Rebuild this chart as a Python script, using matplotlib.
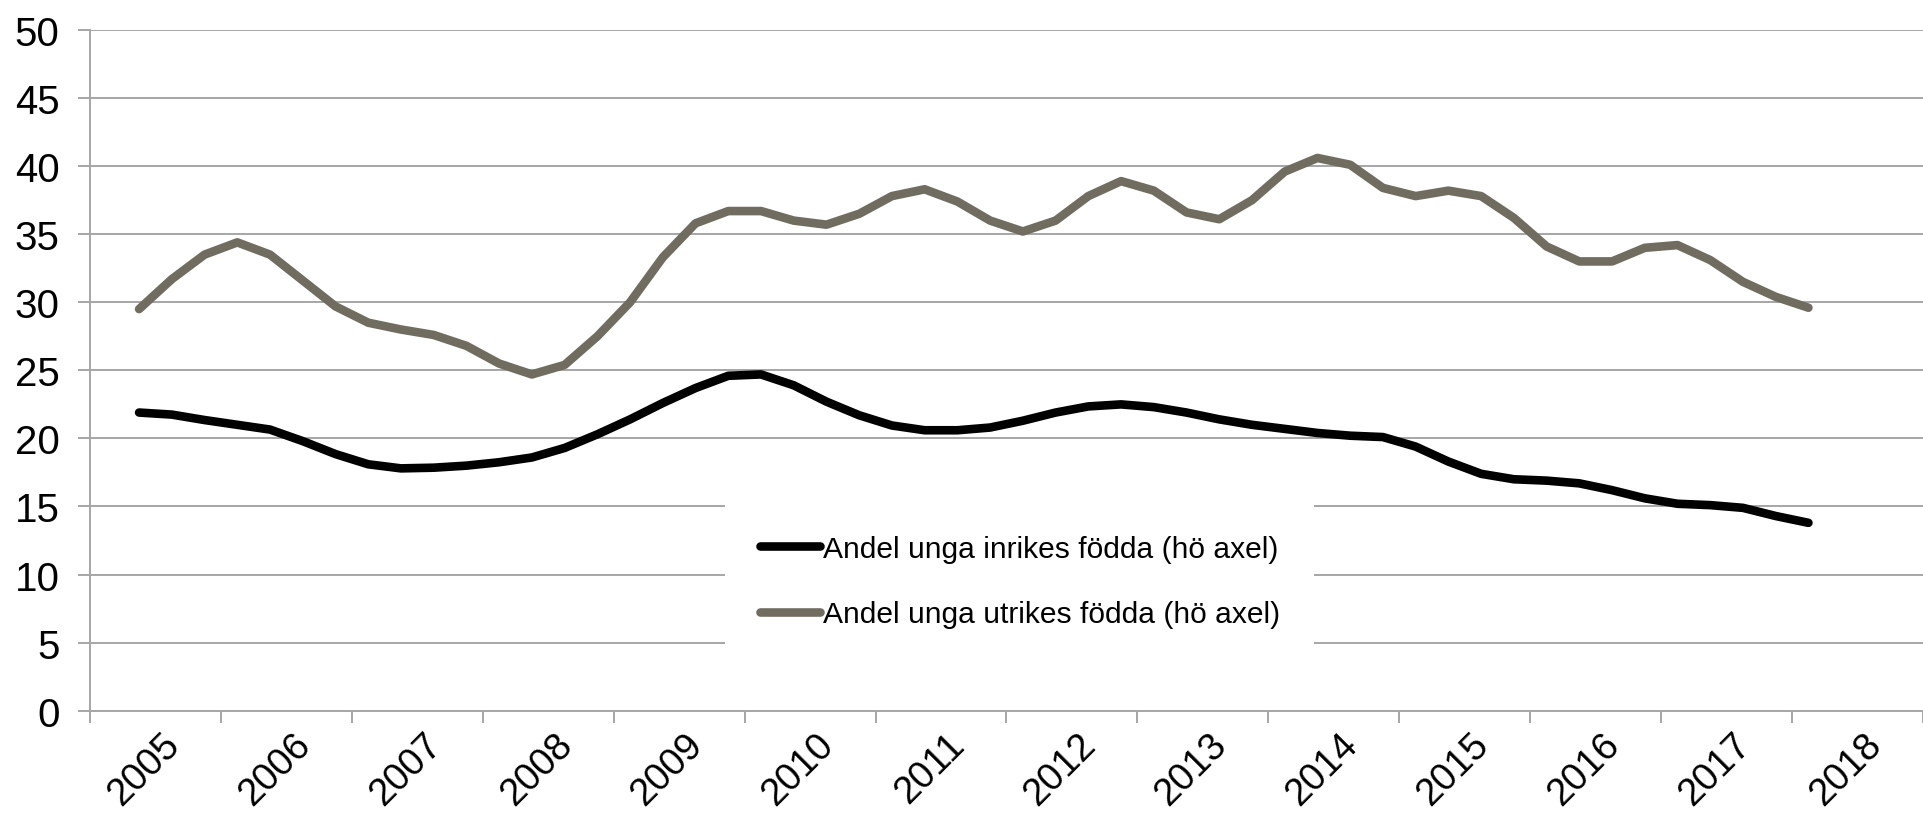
import numpy as np
import matplotlib
matplotlib.use("Agg")
import matplotlib.pyplot as plt

plt.rcParams['font.family'] = ['Liberation Sans', 'DejaVu Sans']

# Year labels on the category axis (one category per quarter, 4 per year)
year_labels = ["2005", "2006", "2007", "2008", "2009", "2010", "2011",
               "2012", "2013", "2014", "2015", "2016", "2017", "2018"]

# Quarterly observations, 2005 Q2 .. 2018 Q1
first_quarter_index = 1  # 0 = 2005 Q1

series_inrikes_label = "Andel unga inrikes födda (hö axel)"
inrikes = [21.9, 21.75, 21.35, 21.0, 20.65, 19.8, 18.85, 18.1, 17.8, 17.85,
           18.0, 18.25, 18.6, 19.3, 20.3, 21.4, 22.6, 23.7, 24.6, 24.7,
           23.9, 22.7, 21.7, 20.95, 20.6, 20.6, 20.8, 21.3, 21.9, 22.35,
           22.5, 22.3, 21.9, 21.4, 21.0, 20.7, 20.4, 20.2, 20.1, 19.4,
           18.3, 17.4, 17.0, 16.9, 16.7, 16.2, 15.6, 15.2, 15.1, 14.9,
           14.3, 13.8]

series_utrikes_label = "Andel unga utrikes födda (hö axel)"
utrikes = [29.5, 31.7, 33.5, 34.4, 33.5, 31.6, 29.7, 28.5, 28.0, 27.6,
           26.8, 25.5, 24.7, 25.4, 27.5, 30.0, 33.3, 35.8, 36.7, 36.7,
           36.0, 35.7, 36.5, 37.8, 38.3, 37.4, 36.0, 35.2, 36.0, 37.8,
           38.9, 38.2, 36.6, 36.1, 37.5, 39.6, 40.6, 40.1, 38.4, 37.8,
           38.2, 37.8, 36.2, 34.1, 33.0, 33.0, 34.0, 34.2, 33.1, 31.5,
           30.4, 29.6]

y_ticks = [0, 5, 10, 15, 20, 25, 30, 35, 40, 45, 50]

W, H = 1923, 820
fig = plt.figure(figsize=(W / 100, H / 100), dpi=100)
ax_left, ax_bottom, ax_top = 90, 711.7, 31
ax = fig.add_axes([ax_left / W, (H - ax_bottom) / H,
                   (W - ax_left) / W, (ax_bottom - ax_top) / H])

grid_color = '#a6a6a6'
black_color = '#000000'
gray_color = '#716c60'

x = np.arange(len(inrikes)) + first_quarter_index
l1, = ax.plot(x, inrikes, color=black_color, lw=6.2,
              solid_capstyle='round', solid_joinstyle='round',
              label=series_inrikes_label, zorder=3)
l2, = ax.plot(x, utrikes, color=gray_color, lw=6.2,
              solid_capstyle='round', solid_joinstyle='round',
              label=series_utrikes_label, zorder=3)

quarters_per_year = 4
px_per_cat = (1802.4 - ax_left) / (len(year_labels) - 1) / quarters_per_year
ax.set_xlim(-0.5, (W - ax_left) / px_per_cat - 0.5)
ax.set_ylim(0, 50)

# y axis
ax.set_yticks(y_ticks)
ax.yaxis.grid(True, color=grid_color, lw=1.4)
ax.set_axisbelow(True)
ax.tick_params(axis='y', length=8.4, width=1.4, color=grid_color,
               pad=13.5, labelsize=29, labelcolor='black')

# x axis: tick marks between years, labels at year centres
n_years = len(year_labels)
major_pos = [-0.5 + quarters_per_year * k for k in range(n_years + 1)]
ax.set_xticks(major_pos)
ax.set_xticklabels([])
ax.tick_params(axis='x', which='major', length=8.4, width=1.4, color=grid_color)
label_pos = [-0.5 + quarters_per_year * (k + 0.5) + 0.95 for k in range(n_years)]
ax.set_xticks(label_pos, minor=True)
ax.set_xticklabels(year_labels, minor=True, rotation=45, ha='right', va='top')
ax.tick_params(axis='x', which='minor', length=0, pad=11, labelsize=27.5,
               labelcolor='black')

for s in ['top', 'right']:
    ax.spines[s].set_visible(False)
for s in ['left', 'bottom']:
    ax.spines[s].set_color(grid_color)
    ax.spines[s].set_linewidth(1.4)

leg = ax.legend(handles=[l1, l2], loc='center',
                bbox_to_anchor=(1019.8 / W, 1 - 582.5 / H),
                bbox_transform=fig.transFigure,
                frameon=True, facecolor='white', edgecolor='none',
                framealpha=1, fancybox=False, borderpad=1.15,
                handlelength=2.0, handletextpad=0.1, labelspacing=1.25,
                fontsize=21.6)
leg.set_zorder(5)

fig.savefig('out.png', dpi=100, facecolor='white')
